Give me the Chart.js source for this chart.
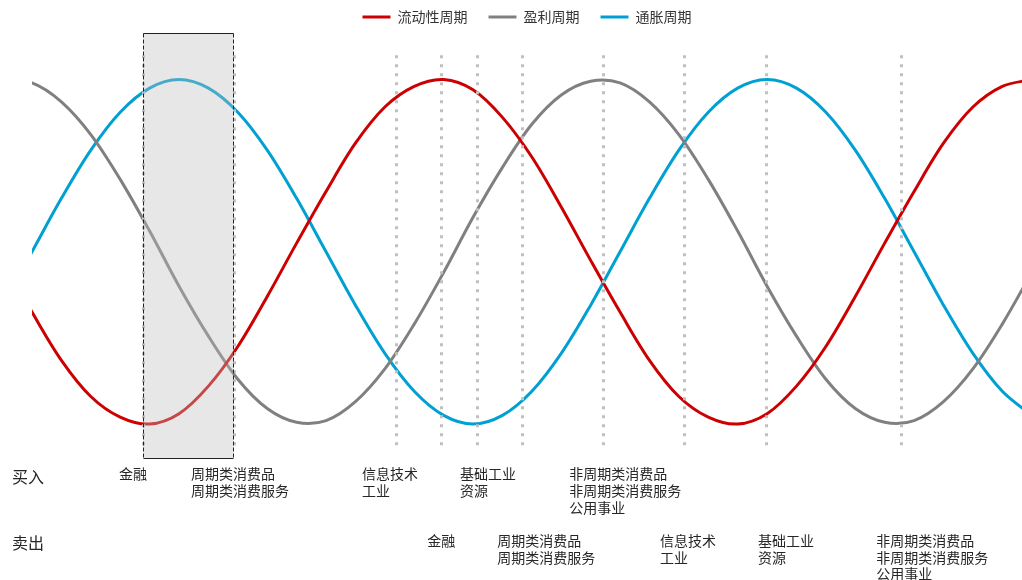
<!DOCTYPE html>
<html>
<head>
<meta charset="utf-8">
<script src="https://cdn.jsdelivr.net/npm/chart.js@4"></script>
<style>
  html, body { margin: 0; padding: 0; background: #ffffff; }
  #wrap { width: 1022px; height: 580px; position: relative; }
</style>
</head>
<body>
<div id="wrap"><canvas id="c" width="1022" height="580"></canvas></div>
<script>
// ---- data (phase position on x, cycle level on y) ----
const seriesNames = ['流动性周期', '盈利周期', '通胀周期'];
const phase = [-1,0,1,2,3,4,5,6,7,8,9,10,11,12,13,14,15,16,17,18,19,20,21,22,23,24,25,26,27,28,29,30,31,32,33,34];
const liquidity = [-0.05,-0.35,-0.63,-0.84,-0.96,-1.00,-0.94,-0.78,-0.55,-0.26,0.05,0.35,0.63,0.84,0.96,1.00,0.94,0.78,0.55,0.26,-0.05,-0.35,-0.63,-0.84,-0.96,-1.00,-0.94,-0.78,-0.55,-0.26,0.05,0.35,0.63,0.84,0.96,1.00];
const earnings  = [0.99,0.98,0.87,0.68,0.42,0.12,-0.20,-0.49,-0.74,-0.91,-0.99,-0.98,-0.87,-0.68,-0.42,-0.12,0.20,0.49,0.74,0.91,0.99,0.98,0.87,0.68,0.42,0.12,-0.20,-0.49,-0.74,-0.91,-0.99,-0.98,-0.87,-0.68,-0.42,-0.12];
const inflation = [-0.31,0.00,0.31,0.59,0.81,0.95,1.00,0.95,0.81,0.59,0.31,0.00,-0.31,-0.59,-0.81,-0.95,-1.00,-0.95,-0.81,-0.59,-0.31,0.00,0.31,0.59,0.81,0.95,1.00,0.95,0.81,0.59,0.31,0.00,-0.31,-0.59,-0.81,-0.95];

// phase points where sectors switch (x units)
const switchPoints = [3.78, 6.86, 12.38, 13.91, 15.14, 16.67, 19.42, 22.18, 24.97, 29.56];
const highlightRange = [3.77, 6.85];

const rowTitles = ['买入', '卖出'];
const buyGroups = [['金融'], ['周期类消费品', '周期类消费服务'], ['信息技术', '工业'], ['基础工业', '资源'], ['非周期类消费品', '非周期类消费服务', '公用事业']];
const buyAt = [2.96, 5.41, 11.22, 14.56, 18.27];
const sellGroups = [['金融'], ['周期类消费品', '周期类消费服务'], ['信息技术', '工业'], ['基础工业', '资源'], ['非周期类消费品', '非周期类消费服务', '公用事业']];
const sellAt = [13.44, 15.82, 21.36, 24.69, 28.71];

// ---- styles ----
const colors = ['rgb(204,0,0)', 'rgb(128,128,128)', 'rgb(0,160,210)'];
const CJK = '"Noto Sans CJK SC", "Noto Sans", sans-serif';

function pts(ys) { return phase.map((x, i) => ({ x: x, y: ys[i] })); }

const overlayPlugin = {
  id: 'overlay',
  afterDatasetsDraw(chart) {
    const { ctx, chartArea, scales } = chart;
    const xs = scales.x, ys = scales.y;
    ctx.save();
    // dotted switch lines
    ctx.strokeStyle = 'rgb(192,192,192)';
    ctx.lineWidth = 3;
    ctx.setLineDash([3, 6]);
    const yTop = ys.getPixelForValue(1.14);
    const yBot = ys.getPixelForValue(-1.15);
    switchPoints.forEach(v => {
      const px = Math.round(xs.getPixelForValue(v)) + 0.5;
      ctx.beginPath();
      ctx.moveTo(px, yTop);
      ctx.lineTo(px, yBot);
      ctx.stroke();
    });
    // highlight box
    const bx0 = Math.round(xs.getPixelForValue(highlightRange[0])) + 0.5;
    const bx1 = Math.round(xs.getPixelForValue(highlightRange[1])) + 0.5;
    const by0 = Math.round(chartArea.top) - 0.5;
    const by1 = Math.round(chartArea.bottom) - 0.5;
    ctx.setLineDash([]);
    ctx.fillStyle = 'rgba(190,190,190,0.37)';
    ctx.fillRect(bx0, by0, bx1 - bx0, by1 - by0);
    ctx.strokeStyle = '#222';
    ctx.lineWidth = 1;
    ctx.beginPath();
    ctx.moveTo(bx0, by0); ctx.lineTo(bx1, by0);
    ctx.moveTo(bx0, by1); ctx.lineTo(bx1, by1);
    ctx.stroke();
    ctx.setLineDash([4, 2]);
    ctx.beginPath();
    ctx.moveTo(bx0, by0); ctx.lineTo(bx0, by1);
    ctx.moveTo(bx1, by0); ctx.lineTo(bx1, by1);
    ctx.stroke();
    ctx.restore();
  },
  afterDraw(chart) {
    const { ctx, chartArea, scales } = chart;
    const xs = scales.x;
    ctx.save();
    ctx.fillStyle = '#262626';
    ctx.textBaseline = 'middle';
    ctx.textAlign = 'left';
    const buyY = chartArea.bottom + 15;
    const sellY = chartArea.bottom + 81.5;
    const lh = 16.7;
    ctx.font = '16px ' + CJK;
    ctx.fillText(rowTitles[0], 12, buyY + 2.5);
    ctx.fillText(rowTitles[1], 12, sellY + 2.5);
    ctx.font = '14px ' + CJK;
    buyGroups.forEach((g, i) => {
      const px = xs.getPixelForValue(buyAt[i]);
      g.forEach((t, j) => ctx.fillText(t, px, buyY + j * lh));
    });
    sellGroups.forEach((g, i) => {
      const px = xs.getPixelForValue(sellAt[i]);
      g.forEach((t, j) => ctx.fillText(t, px, sellY + j * lh));
    });
    ctx.restore();
  }
};

new Chart(document.getElementById('c'), {
  type: 'line',
  data: {
    datasets: [
      { label: seriesNames[0], data: pts(liquidity), borderColor: colors[0], backgroundColor: colors[0], borderWidth: 3 },
      { label: seriesNames[1], data: pts(earnings),  borderColor: colors[1], backgroundColor: colors[1], borderWidth: 3 },
      { label: seriesNames[2], data: pts(inflation), borderColor: colors[2], backgroundColor: colors[2], borderWidth: 3 }
    ]
  },
  options: {
    responsive: false,
    animation: false,
    devicePixelRatio: 1,
    layout: { padding: { left: 32, right: 0, top: -11, bottom: 121 } },
    elements: {
      line: { tension: 0.34, fill: false },
      point: { radius: 0, hoverRadius: 0 }
    },
    scales: {
      x: { type: 'linear', min: 0, max: 33.67, display: false },
      y: { type: 'linear', min: -1.203, max: 1.264, display: false }
    },
    plugins: {
      tooltip: { enabled: false },
      legend: {
        position: 'top',
        align: 'center',
        labels: {
          usePointStyle: true,
          pointStyle: 'line',
          pointStyleWidth: 28,
          padding: 21,
          color: '#333',
          font: { size: 14, family: CJK }
        }
      }
    }
  },
  plugins: [overlayPlugin]
});
</script>
</body>
</html>
